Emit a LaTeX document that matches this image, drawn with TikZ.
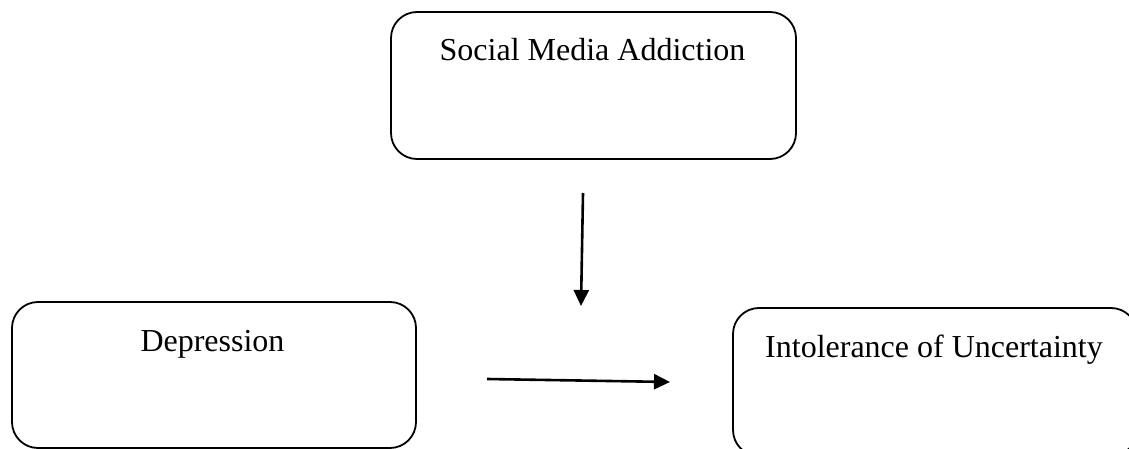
\documentclass[tikz,border=0pt]{standalone}
\usepackage{fontspec}
\setmainfont{Liberation Serif}
\usetikzlibrary{arrows.meta}
\begin{document}
\begin{tikzpicture}[x=1pt,y=-1pt,
  box/.style={draw, line width=1.8pt, rounded corners=26pt, inner sep=0pt},
  lbl/.style={anchor=base, inner sep=0pt, font=\fontsize{32}{38}\selectfont},
  link/.style={line width=2.6pt, -{Triangle[length=16pt,width=15pt]}}]
  \useasboundingbox (0,0) rectangle (1129,449);
  \clip (0,0) rectangle (1129,449);
  % boxes
  \node[box, minimum width=405pt, minimum height=147pt] (sma) at (593.5,85.5) {};
  \node[box, minimum width=404pt, minimum height=146pt] (dep) at (214,375) {};
  \node[box, minimum width=404pt, minimum height=148pt] (iou) at (935,382) {};
  % labels
  \node[lbl] (smat) at (592.5,61) {Social Media Addiction};
  \node[lbl] (dept) at (212.5,351) {Depression};
  \node[lbl] (iout) at (934,357) {Intolerance of Uncertainty};
  % arrow end points
  \coordinate (v1) at (583,193);
  \coordinate (v2) at (581,306);
  \coordinate (h1) at (487,379);
  \coordinate (h2) at (670,382);
  \draw[link] (v1) -- (v2);
  \draw[link] (h1) -- (h2);
\end{tikzpicture}
\end{document}
